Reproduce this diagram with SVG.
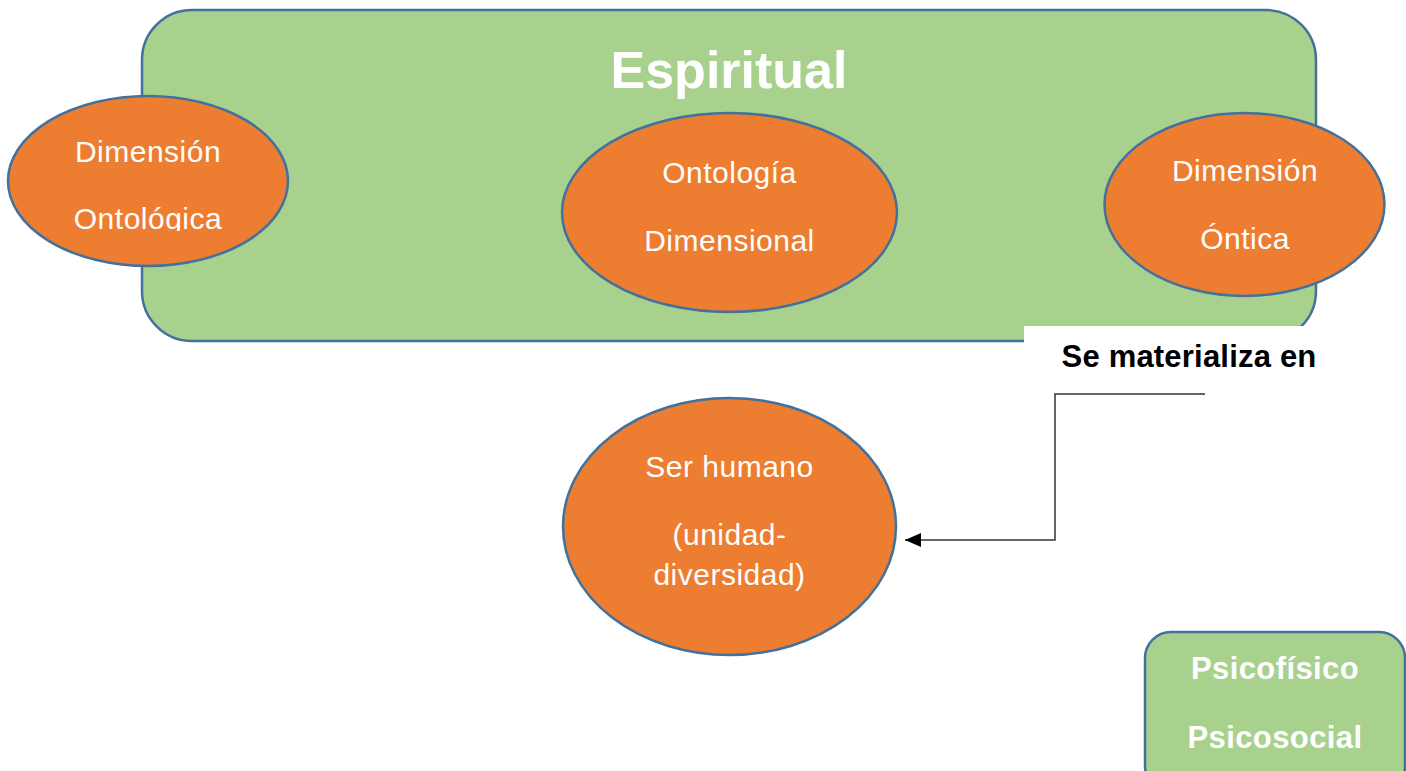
<svg xmlns="http://www.w3.org/2000/svg" width="1406" height="771" viewBox="0 0 1406 771">
<defs>
<style>
.g{fill:#A9D18E;stroke:#41719C;stroke-width:2.5}
.o{fill:#ED7D31;stroke:#41719C;stroke-width:2.5}
.t{font-family:"Liberation Sans",Arial,sans-serif;font-size:30px;fill:#fff;text-anchor:middle;letter-spacing:0.5px}
.b{font-family:"Liberation Sans",Arial,sans-serif;font-weight:bold;text-anchor:middle}
.c{fill:none;stroke:#333;stroke-width:1.5}
</style>
<marker id="ah" viewBox="0 0 16 14" refX="16" refY="7" markerWidth="16" markerHeight="14" markerUnits="userSpaceOnUse" orient="auto">
<path d="M0,0 L16,7 L0,14 Z" fill="#000"/>
</marker>
<clipPath id="clipL"><rect x="0" y="100" width="300" height="131"/></clipPath>
</defs>
<rect width="1406" height="771" fill="#fff"/>
<g id="espiritual">
<rect class="g" x="142" y="10" width="1174" height="331" rx="50" ry="50"/>
<text class="b" x="729" y="88" font-size="52" fill="#fff">Espiritual</text>
</g>
<g id="dim-ontologica">
<ellipse class="o" cx="148" cy="181" rx="140" ry="85"/>
<g clip-path="url(#clipL)">
<text class="t" x="148" y="162">Dimensión</text>
<text class="t" x="148" y="229">Ontológica</text>
</g>
</g>
<g id="ontologia-dimensional">
<ellipse class="o" cx="729.5" cy="212.5" rx="167.5" ry="99.5"/>
<text class="t" x="729.5" y="183">Ontología</text>
<text class="t" x="729.5" y="251">Dimensional</text>
</g>
<g id="dim-ontica">
<ellipse class="o" cx="1244.5" cy="204.5" rx="140" ry="91.5"/>
<text class="t" x="1245" y="181">Dimensión</text>
<text class="t" x="1245" y="249">Óntica</text>
</g>
<g id="label-materializa">
<rect x="1024" y="326" width="306" height="60" fill="#fff"/>
<text class="b" x="1189" y="367" font-size="31" fill="#000" letter-spacing="0.2">Se materializa en</text>
</g>
<g id="ser-humano">
<ellipse class="o" cx="729.5" cy="526.5" rx="166.5" ry="128.5"/>
<text class="t" x="729.5" y="477">Ser humano</text>
<text class="t" x="729.5" y="545">(unidad-</text>
<text class="t" x="729.5" y="585">diversidad)</text>
</g>
<g id="psico">
<rect class="g" x="1145" y="632" width="260" height="160" rx="26" ry="26"/>
<text class="b" x="1275" y="679" font-size="31" fill="#fff" letter-spacing="0.4">Psicofísico</text>
<text class="b" x="1275" y="748" font-size="31" fill="#fff" letter-spacing="0.4">Psicosocial</text>
</g>
<g id="connectors">
<path class="c" d="M1205,394 H1055 V540 H905" marker-end="url(#ah)"/>
</g>
</svg>
